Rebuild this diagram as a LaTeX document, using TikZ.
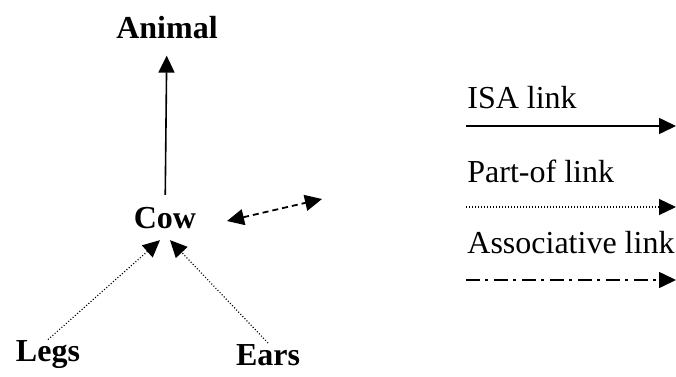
\documentclass[tikz,border=0pt]{standalone}
\usepackage{fontspec}
\setmainfont{Liberation Serif}
\usetikzlibrary{arrows.meta}

\tikzset{
  concept/.style={font=\fontsize{16}{19}\selectfont\bfseries, inner sep=2pt},
  legendtext/.style={font=\fontsize{16}{19}\selectfont, anchor=west, inner sep=0pt},
  tip/.style={-{Triangle[length=8.5pt,width=8pt]}},
  isa/.style={tip, line width=0.8pt},
  partof/.style={tip, line width=0.6pt, dash pattern=on 0.5pt off 1pt},
  assoc/.style={{Triangle[length=8.5pt,width=8pt]}-{Triangle[length=8.5pt,width=8pt]}, line width=0.9pt, dash pattern=on 3pt off 2pt},
  assocleg/.style={tip, line width=0.8pt, dash pattern=on 7pt off 2.5pt on 1.5pt off 3pt}
}

\begin{document}
\begin{tikzpicture}[x=0.5pt, y=-0.5pt]
        \useasboundingbox (0,0) rectangle (676,376);

        % the network
        \node[concept] (animal) at (167,28) {Animal};
        \node[concept] (cow) at (165,218) {Cow};
        \node[concept] (legs) at (48,355) {Legs};
        \node[concept] (ears) at (268,355) {Ears};

        \draw[isa, shorten <=4pt, shorten >=6pt] (cow) -- (animal);
        \draw[partof] ([yshift=-1.5pt]legs.north) -- ([xshift=-2.5pt, yshift=-3.5pt]cow.south);
        \draw[partof] ([yshift=-1.5pt]ears.north) -- ([xshift=2.5pt, yshift=-3.5pt]cow.south);

        \coordinate (a1) at (227,221);
        \coordinate (a2) at (322,199);
        \draw[assoc] (a1) -- (a2);

        % legend
        \node[legendtext] (isatxt) at (467,98) {ISA link};
        \node[legendtext] (parttxt) at (467,171) {Part-of link};
        \node[legendtext] (assoctxt) at (467,243) {Associative link};

        \coordinate (l1) at (466,126);  \coordinate (r1) at (676,126);
        \coordinate (l2) at (466,207);  \coordinate (r2) at (676,207);
        \coordinate (l3) at (466,280);  \coordinate (r3) at (676,280);
        \draw[isa] (l1) -- (r1);
        \draw[partof] (l2) -- (r2);
        \draw[assocleg] (l3) -- (r3);
\end{tikzpicture}
\end{document}
